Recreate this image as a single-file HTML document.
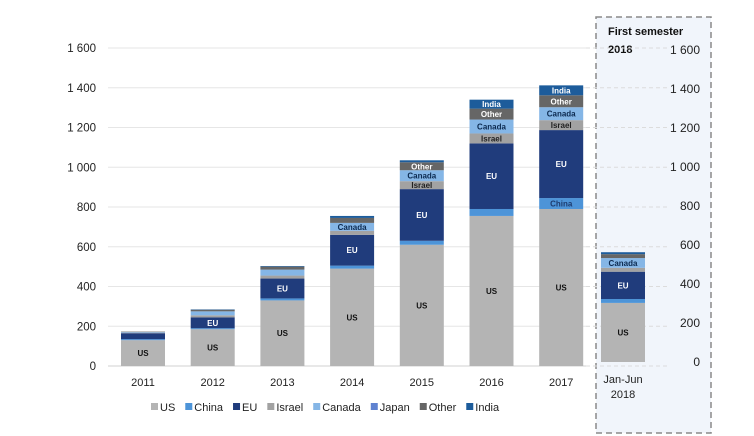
<!DOCTYPE html>
<html><head><meta charset="utf-8"><style>
body{margin:0;background:#fff;}
svg{display:block;font-family:"Liberation Sans",sans-serif;}
</style></head><body>
<svg id="chart" width="754" height="436">
<rect x="596" y="17" width="115" height="416" fill="#f1f5fb" stroke="#8a8a8a" stroke-width="1.5" stroke-dasharray="6,4"/>
<text x="608" y="35" font-size="11" font-weight="bold" fill="#111">First semester</text>
<text x="608" y="53" font-size="11" font-weight="bold" fill="#111">2018</text>
<g id="grid"></g><g id="bars"></g><g id="axes"></g>
<g id="legend"></g>
</svg>
<script>
const categories=["2011","2012","2013","2014","2015","2016","2017"];
const seriesNames=["US","China","EU","Israel","Canada","Japan","Other","India"];
const US=[130,185,330,490,610,755,790];
const China=[5,5,10,15,20,35,55];
const EU=[30,55,100,155,260,330,342];
const Israel=[3,10,15,20,40,50,50];
const Canada=[3,20,30,40,55,70,65];
const Japan=[0,0,0,0,0,0,0];
const Other=[2,8,15,25,40,55,60];
const India=[0,2,3,10,10,45,50];
const semester=[303,20,140,20,50,0,20,10];
const leftTicks=[0,200,400,600,800,1000,1200,1400,1600];
const tickLabels=["0","200","400","600","800","1 000","1 200","1 400","1 600"];
const colors=["#b4b4b4","#4d94d8","#203c7c","#a2a2a2","#85b6e6","#5f82d0","#666666","#1d5c9b"];
const textCol=["#111","#1d3b6e","#fff","#222","#0c2a50","#fff","#fff","#fff"];
const series=[US,China,EU,Israel,Canada,Japan,Other,India];
const svg=document.getElementById('chart');const NS="http://www.w3.org/2000/svg";
function mk(t,a,p){const e=document.createElementNS(NS,t);for(const k in a)e.setAttribute(k,a[k]);p.appendChild(e);return e;}
const y=v=>366-v*0.19875;
const yR=v=>362-v*0.195;
const x=i=>143+i*69.7;
const bw=44;
const grid=document.getElementById('grid'),bars=document.getElementById('bars'),axes=document.getElementById('axes');
leftTicks.forEach((t,i)=>{
 const g=mk('line',{x1:108,x2:586,y1:y(t),y2:y(t),stroke:i==0?'#d0d0d0':'#e6e6e6','stroke-width':1},grid);
 
 
 const d=mk('line',{x1:586,x2:668,y1:y(t),y2:y(t),stroke:'#dcdcdc','stroke-dasharray':'4,3'},grid);
 
 
 const l=mk('text',{x:96,y:y(t)+4,'font-size':11.5,'text-anchor':'end',fill:'#222'},axes);l.textContent=tickLabels[i];
 
 
 const r=mk('text',{x:700,y:yR(t)+4,'font-size':12,'text-anchor':'end',fill:'#222'},axes);r.textContent=tickLabels[i];
 
 
});
function drawBar(cx,vals,sc,name){
 let cum=0;
 vals.forEach((v,s)=>{
  if(v<=0)return;
  const y0=sc(cum),y1=sc(cum+v);cum+=v;
  const r=mk('rect',{x:cx-bw/2,y:y1,width:bw,height:y0-y1,fill:colors[s]},bars);
  
  
  if(y0-y1>=7){
   const t=mk('text',{x:cx,y:(y0+y1)/2+3,'font-size':8,'font-weight':'bold','text-anchor':'middle',fill:textCol[s]},bars);
   t.textContent=seriesNames[s];
   
   
  }
 });
}
categories.forEach((c,i)=>{
 drawBar(x(i),series.map(a=>a[i]),y,c);
 const t=mk('text',{x:x(i),y:386,'font-size':11,'text-anchor':'middle',fill:'#222'},axes);t.textContent=c;
 
 
});
drawBar(623,semester,yR,'jan-jun-2018');
[["Jan-Jun",383],["2018",398]].forEach(a=>{const t=mk('text',{x:623,y:a[1],'font-size':11,'text-anchor':'middle',fill:'#222'},axes);t.textContent=a[0];
 
 });
const lg=document.getElementById('legend');let lx=151;
seriesNames.forEach((n,s)=>{
 const r=mk('rect',{x:lx,y:403,width:7,height:7,fill:colors[s]},lg);
 
 
 const t=mk('text',{x:lx+9,y:411,'font-size':11,fill:'#222'},lg);t.textContent=n;
 
 
 lx+=9+t.getComputedTextLength()+10;
});
</script>
</body></html>
